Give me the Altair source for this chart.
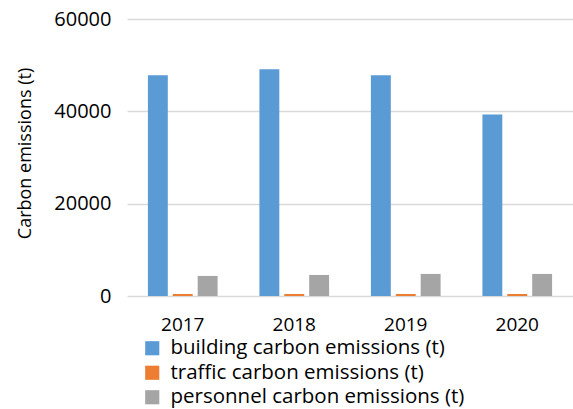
import altair as alt
import pandas as pd

years = ["2017", "2018", "2019", "2020"]
series = ["building carbon emissions (t)", "traffic carbon emissions (t)", "personnel carbon emissions (t)"]
building = [47800, 49100, 47800, 39300]
traffic = [430, 430, 430, 430]
personnel = [4350, 4560, 4780, 4780]
colors = ["#5B9BD5", "#ED7D31", "#A5A5A5"]

rows = []
for i, y in enumerate(years):
    for s, vals in zip(series, [building, traffic, personnel]):
        rows.append({"year": y, "series": s, "value": vals[i]})
df = pd.DataFrame(rows)

FONT = "Open Sans"

chart = alt.Chart(df).mark_bar().encode(
    x=alt.X("year:N", sort=years,
            scale=alt.Scale(paddingInner=0.375, paddingOuter=0.1875),
            axis=alt.Axis(title=None, labelAngle=0, ticks=False, domain=False,
                          labelPadding=19, labelFontSize=19, labelFont=FONT,
                          labelColor="#000000")),
    xOffset=alt.XOffset("series:N", sort=series, scale=alt.Scale(paddingInner=0.2)),
    y=alt.Y("value:Q", scale=alt.Scale(domain=[0, 60000]),
            axis=alt.Axis(title="Carbon emissions (t)", values=[0, 20000, 40000, 60000],
                          format="d", ticks=False, domain=False,
                          gridColor="#d9d9d9", gridWidth=1.5,
                          labelPadding=16, labelFontSize=20, labelFont=FONT,
                          labelColor="#000000",
                          titleFont=FONT, titleFontSize=18, titleFontWeight="normal",
                          titleColor="#000000", titleAngle=-90,
                          titleX=-102, titleY=134, titleAlign="center",
                          titleBaseline="middle")),
    color=alt.Color("series:N", sort=series,
                    scale=alt.Scale(domain=series, range=colors),
                    legend=alt.Legend(title=None, orient="none", legendX=15, legendY=319,
                                      direction="vertical", symbolType="square",
                                      symbolSize=200, symbolStrokeWidth=0,
                                      labelFont=FONT, labelFontSize=20.5,
                                      labelColor="#000000", rowPadding=3.5,
                                      labelOffset=8, labelLimit=0)),
).properties(
    width=446, height=277,
    padding={"left": 127, "top": 19, "right": 0, "bottom": 113},
    autosize=alt.AutoSizeParams(type="none"),
).configure_view(stroke=None)

chart.save("out.html", embed_options={"renderer": "svg", "actions": False})
